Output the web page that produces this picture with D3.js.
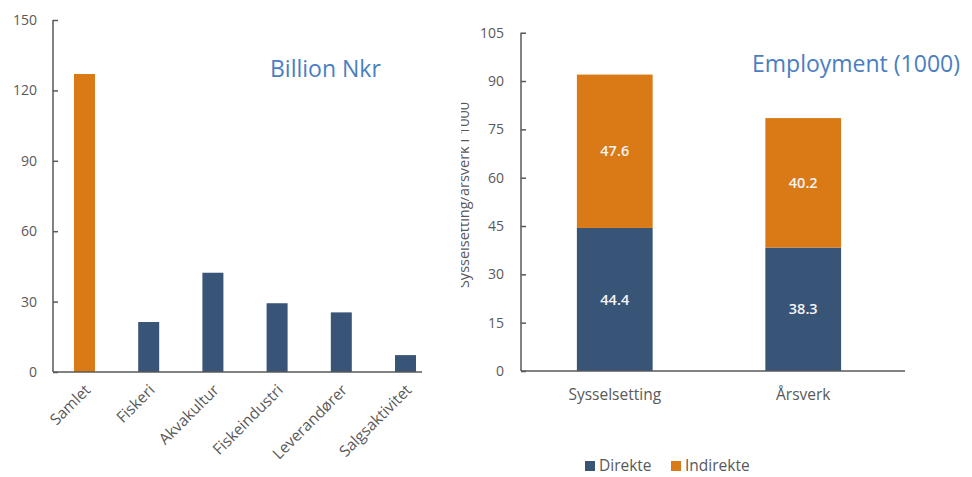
<!DOCTYPE html>
<html>
<head>
<meta charset="utf-8">
<script src="https://cdn.jsdelivr.net/npm/d3@7"></script>
<style>
  html, body { margin: 0; padding: 0; background: #fff; }
  svg { display: block; font-family: "Open Sans", "Noto Sans", sans-serif; }
</style>
</head>
<body>
<svg id="chart" width="972" height="477"></svg>
<script>
// Value added by segment (billion NOK)
const sectors = ["Samlet", "Fiskeri", "Akvakultur", "Fiskeindustri", "Leverandører", "Salgsaktivitet"];
const sectorValues = [127, 21.3, 42.3, 29.3, 25.4, 7.2];
const valueTicks = [0, 30, 60, 90, 120, 150];

// Employment (thousands), direct and indirect
const measures = ["Sysselsetting", "Årsverk"];
const direkte = [44.4, 38.3];
const indirekte = [47.6, 40.2];
const seriesNames = ["Direkte", "Indirekte"];
const employmentTicks = [0, 15, 30, 45, 60, 75, 90, 105];

const ORANGE = "#D97A16";
const NAVY = "#385477";
const AXIS = "#595959";
const TEXT = "#595959";
const TITLE = "#4A7EC1";

const svg = d3.select("#chart");
const defs = svg.append("defs");

// ---------- Left chart: value added ----------
{
  const left = 53, right = 437, top = 20, bottom = 372;
  const x = d3.scaleBand().domain(sectors).range([left, right])
    .paddingInner(0.673).paddingOuter(0.327);
  const y = d3.scaleLinear().domain([0, 150]).range([bottom, top]);

  const g = svg.append("g");

  g.selectAll("rect.bar").data(sectors).join("rect")
    .attr("class", "bar")
    .attr("x", d => x(d))
    .attr("width", x.bandwidth())
    .attr("y", (d, i) => y(sectorValues[i]))
    .attr("height", (d, i) => y(0) - y(sectorValues[i]))
    .attr("fill", (d, i) => i === 0 ? ORANGE : NAVY);

  const yAxis = g.append("g").attr("transform", `translate(${left},0)`)
    .call(d3.axisRight(y).tickValues(valueTicks).tickSize(5).tickFormat(""));
  yAxis.select(".domain").remove();
  yAxis.selectAll(".tick line").attr("stroke", AXIS).attr("stroke-width", 1.5);

  g.selectAll("text.ylab").data(valueTicks).join("text")
    .attr("class", "ylab")
    .attr("x", 37).attr("y", d => y(d)).attr("dy", "0.35em")
    .attr("text-anchor", "end").attr("fill", TEXT).attr("font-size", 14)
    .text(d => d);

  g.append("line").attr("x1", left).attr("x2", left).attr("y1", top).attr("y2", bottom)
    .attr("stroke", AXIS).attr("stroke-width", 1.5);
  g.append("line").attr("x1", left).attr("x2", 422).attr("y1", bottom).attr("y2", bottom)
    .attr("stroke", AXIS).attr("stroke-width", 1.5);

  g.selectAll("text.xlab").data(sectors).join("text")
    .attr("class", "xlab")
    .attr("transform", d => `translate(${x(d) + x.bandwidth() / 2 + 7},${bottom + 19}) rotate(-45)`)
    .attr("text-anchor", "end").attr("fill", TEXT).attr("font-size", 15.5)
    .text(d => d);

  g.append("text").attr("x", 270).attr("y", 77)
    .attr("fill", TITLE).attr("font-size", 23).text("Billion Nkr");
}

// ---------- Right chart: employment ----------
{
  const left = 521, right = 897, top = 32.7, bottom = 371;
  const x = d3.scaleBand().domain(measures).range([left, right])
    .paddingInner(0.598).paddingOuter(0.2965);
  const y = d3.scaleLinear().domain([0, 105]).range([bottom, top]);

  const rows = measures.map((m, i) => ({ measure: m, Direkte: direkte[i], Indirekte: indirekte[i] }));
  const stacked = d3.stack().keys(seriesNames)(rows);
  const color = d3.scaleOrdinal().domain(seriesNames).range([NAVY, ORANGE]);

  const g = svg.append("g");

  const layers = g.selectAll("g.layer").data(stacked).join("g")
    .attr("class", "layer").attr("fill", s => color(s.key));
  layers.selectAll("rect").data(s => s).join("rect")
    .attr("x", d => x(d.data.measure))
    .attr("width", x.bandwidth())
    .attr("y", d => y(d[1]))
    .attr("height", d => y(d[0]) - y(d[1]));

  layers.selectAll("text").data(s => s.map(d => ({ d, key: s.key }))).join("text")
    .attr("x", o => x(o.d.data.measure) + x.bandwidth() / 2)
    .attr("y", o => y((o.d[0] + o.d[1]) / 2)).attr("dy", "0.35em")
    .attr("text-anchor", "middle").attr("fill", "#F4F4F4")
    .attr("font-size", 14.5).attr("font-weight", 600)
    .text(o => o.d.data[o.key].toFixed(1));

  const yAxis = g.append("g").attr("transform", `translate(${left},0)`)
    .call(d3.axisRight(y).tickValues(employmentTicks).tickSize(5).tickFormat(""));
  yAxis.select(".domain").remove();
  yAxis.selectAll(".tick line").attr("stroke", AXIS).attr("stroke-width", 1.5);

  g.selectAll("text.ylab").data(employmentTicks).join("text")
    .attr("class", "ylab")
    .attr("x", 504).attr("y", d => y(d)).attr("dy", "0.35em")
    .attr("text-anchor", "end").attr("fill", TEXT).attr("font-size", 14)
    .text(d => d);

  g.append("line").attr("x1", left).attr("x2", left).attr("y1", top).attr("y2", bottom)
    .attr("stroke", AXIS).attr("stroke-width", 1.5);
  g.append("line").attr("x1", left).attr("x2", 905).attr("y1", bottom).attr("y2", bottom)
    .attr("stroke", AXIS).attr("stroke-width", 1.5);

  g.selectAll("text.xlab").data(measures).join("text")
    .attr("class", "xlab")
    .attr("x", d => x(d) + x.bandwidth() / 2).attr("y", 400)
    .attr("text-anchor", "middle").attr("fill", TEXT).attr("font-size", 15.5)
    .text(d => d);

  // Axis title, partly hidden behind the panel edge
  defs.append("clipPath").attr("id", "ytitle-clip")
    .append("rect").attr("x", 461).attr("y", 0).attr("width", 40).attr("height", 477);
  g.append("g").attr("clip-path", "url(#ytitle-clip)")
    .append("text")
    .attr("transform", `translate(469,195) rotate(-90)`)
    .attr("text-anchor", "middle").attr("fill", TEXT).attr("font-size", 14.5)
    .text("Sysselsetting/årsverk i 1000");

  // Legend
  const legend = g.append("g");
  const items = [{ key: "Direkte", x: 585 }, { key: "Indirekte", x: 671 }];
  items.forEach(it => {
    legend.append("rect").attr("x", it.x).attr("y", 461).attr("width", 10).attr("height", 10)
      .attr("fill", color(it.key));
    legend.append("text").attr("x", it.x + 14).attr("y", 471)
      .attr("fill", TEXT).attr("font-size", 15.5).text(it.key);
  });

  g.append("text").attr("x", 752).attr("y", 72)
    .attr("fill", TITLE).attr("font-size", 23).text("Employment (1000)");
}
</script>
</body>
</html>
